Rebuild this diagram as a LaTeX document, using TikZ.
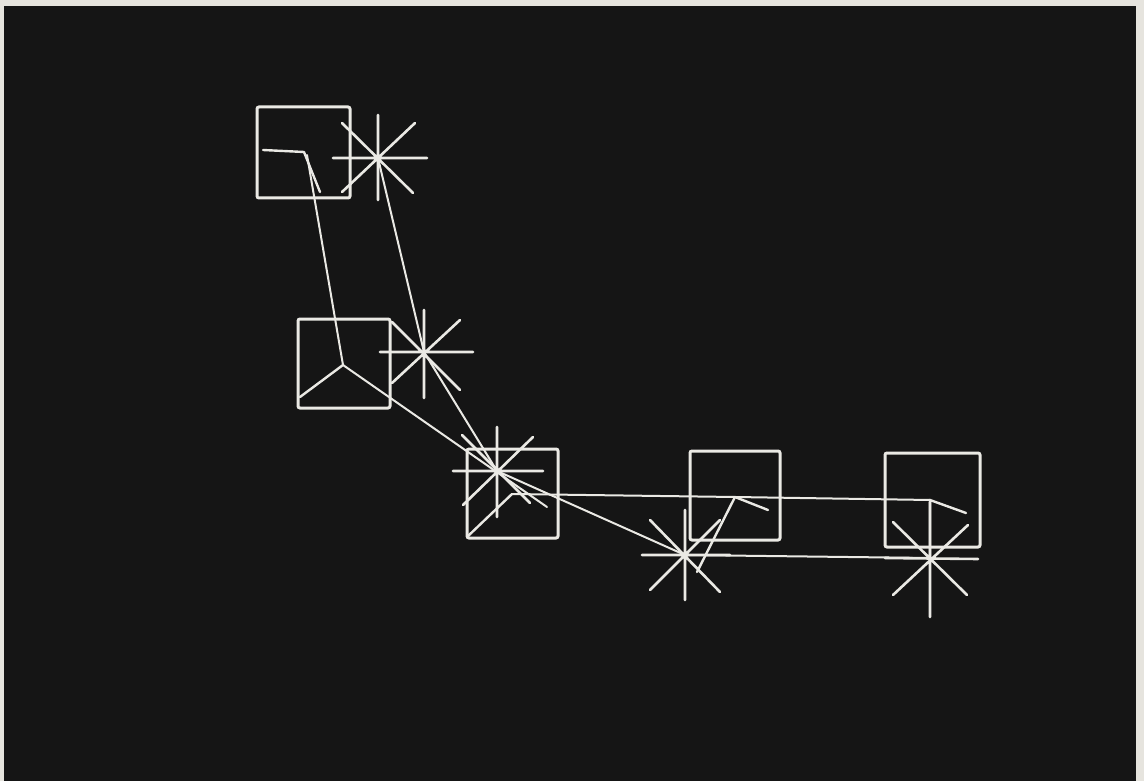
\documentclass[tikz,border=0pt]{standalone}
\definecolor{bg}{HTML}{151515}
\definecolor{ink}{HTML}{EAE9E4}
\definecolor{paper}{HTML}{E6E4DE}
\tikzset{
  boxnode/.style={draw=ink, line width=3pt, rounded corners=2pt, inner sep=0pt},
  ray/.style={draw=ink, line width=2.6pt, line cap=round},
  link/.style={draw=ink, line width=2pt, line cap=round},
  arm/.style={draw=ink, line width=2.4pt, line cap=round, line join=round}
}
\begin{document}
\begin{tikzpicture}[x=1pt,y=-1pt]
\useasboundingbox (0,0) rectangle (1144,781);
\fill[paper] (0,0) rectangle (1144,781);
\fill[bg] (4,6) rectangle (1136,781);

% boxes
\node[boxnode, minimum width=93pt, minimum height=91pt] (B1) at (303.5,152.5) {};
\node[boxnode, minimum width=92pt, minimum height=89pt] (B2) at (344,363.5) {};
\node[boxnode, minimum width=91pt, minimum height=89pt] (B3) at (512.5,493.5) {};
\node[boxnode, minimum width=90pt, minimum height=89pt] (B4) at (735,495.5) {};
\node[boxnode, minimum width=95pt, minimum height=94pt] (B5) at (932.5,500) {};

% apex points
\coordinate (A1) at (304,152);
\coordinate (A1b) at (307,155);
\coordinate (A2) at (343,365);
\coordinate (A3) at (512,494);
\coordinate (A4) at (735,497);
\coordinate (A5) at (930,500);
\coordinate (E2) at (547,507);

% star centres
\coordinate (S1) at (378,158);
\coordinate (S2) at (424,352);
\coordinate (S3) at (497,471);
\coordinate (S4) at (685,555);
\coordinate (S5) at (930,558);

% arms inside boxes
\draw[arm] (263,150) -- (A1) -- (320,192);
\draw[arm] (A2) -- (300,397);
\draw[arm] (A3) -- (467,537);
\draw[arm] (768,510) -- (A4) -- (697,572);
\draw[arm] (966,513) -- (A5) -- (S5);

% links between boxes
\draw[link] (A1b) -- (A2);
\draw[link] (A2) -- (E2);
\draw[link] (A3) -- (A4);
\draw[link] (A4) -- (A5);

% links between stars
\draw[link] (S1) -- (S2);
\draw[link] (S2) -- (S3);
\draw[link] (S3) -- (S4);
\draw[link] (S4) -- (S5);

% stars
\draw[ray] (333,158)--(427,158) (378,115)--(378,200) (342,123)--(413,193) (415,123)--(342,192);
\draw[ray] (380,352)--(473,352) (424,310)--(424,398) (392,322)--(460,390) (460,320)--(392,383);
\draw[ray] (453,471)--(543,471) (497,427)--(497,517) (462,435)--(530,503) (533,437)--(463,505);
\draw[ray] (642,555)--(730,555) (685,510)--(685,600) (650,520)--(720,592) (720,520)--(650,590);
\draw[ray] (885,558)--(978,559) (930,502)--(930,617) (893,522)--(967,595) (968,525)--(893,595);
\end{tikzpicture}
\end{document}
